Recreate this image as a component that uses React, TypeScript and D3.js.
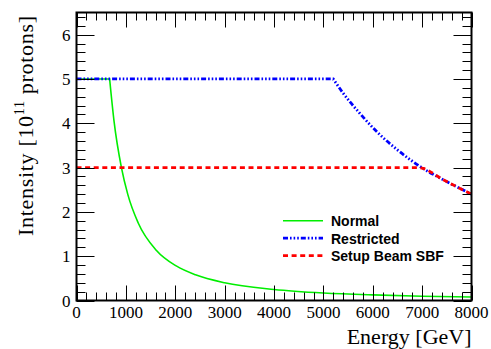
import * as d3 from "d3";
import React, { useRef, useEffect } from "react";

const W = 491;
const H = 349;
const margin = { top: 12.5, right: 19.5, bottom: 48.5, left: 76.5 };

const normalE = [0, 671, 760, 910, 1040, 1250, 1620, 2020, 2410, 3000, 4000, 5000, 6000, 7000, 8000];
const normalI = [5, 5, 4.05, 3.0, 2.39, 1.75, 1.13, 0.78, 0.58, 0.4, 0.25, 0.17, 0.126, 0.097, 0.078];
const restrictedE = [0, 5200, 5400, 5740, 6110, 6510, 7020, 7420, 8000];
const restrictedI = [5, 5, 4.68, 4.22, 3.78, 3.39, 2.98, 2.73, 2.4];
const setupE = [0, 6930, 7020, 7420, 8000];
const setupI = [3, 3, 2.98, 2.73, 2.4];

const xTicks = [0, 1000, 2000, 3000, 4000, 5000, 6000, 7000, 8000];
const yTicks = [0, 1, 2, 3, 4, 5, 6];

const series = [
  { name: "Normal", e: normalE, v: normalI, color: "#00ee00", width: 1.6, dash: null },
  { name: "Restricted", e: restrictedE, v: restrictedI, color: "#0000ff", width: 2.8, dash: "5,2,1.6,2,1.6,2,1.6,2" },
  { name: "Setup Beam SBF", e: setupE, v: setupI, color: "#ff0000", width: 2.8, dash: "5,3.6" },
];

export default function App() {
  const ref = useRef<SVGSVGElement>(null);

  useEffect(() => {
    const svg = d3.select(ref.current);
    svg.selectAll("*").remove();
    const x0 = margin.left;
    const x1 = W - margin.right;
    const y0 = H - margin.bottom;
    const y1 = margin.top;

    const x = d3.scaleLinear().domain([0, 8000]).range([x0, x1]);
    const y = d3.scaleLinear().domain([0, 6.5]).range([y0, y1]);

    const g = svg.append("g");

    // curves: flat part straight, then a smooth fall (sharp corner at the knee)
    series.forEach((s) => {
      const pts = s.e.map((e, i) => [e, s.v[i]] as [number, number]);
      const line = d3
        .line<[number, number]>()
        .x((d) => x(d[0]))
        .y((d) => y(d[1]))
        .curve(d3.curveMonotoneX);
      const tail = line(pts.slice(1)) || "";
      const d = `M${x(pts[0][0])},${y(pts[0][1])}L` + tail.slice(1);
      g.append("path")
        .attr("d", d)
        .attr("fill", "none")
        .attr("stroke", s.color)
        .attr("stroke-width", s.width)
        .attr("stroke-dasharray", s.dash);
    });

    // ticks on all four sides
    const ticks = svg.append("g").attr("stroke", "#000").attr("stroke-width", 1);
    d3.range(0, 8001, 200).forEach((v) => {
      const major = v % 1000 === 0;
      const len = major ? 15 : 8;
      const xx = Math.round(x(v)) + 0.5;
      ticks.append("line").attr("x1", xx).attr("x2", xx).attr("y1", y0).attr("y2", y0 - len);
      ticks.append("line").attr("x1", xx).attr("x2", xx).attr("y1", y1).attr("y2", y1 + len);
    });
    d3.range(0, 6.41, 0.2).forEach((v) => {
      const major = Math.abs(v - Math.round(v)) < 1e-6;
      const len = major ? 18 : 9;
      const yy = Math.round(y(v)) + 0.5;
      ticks.append("line").attr("x1", x0).attr("x2", x0 + len).attr("y1", yy).attr("y2", yy);
      ticks.append("line").attr("x1", x1).attr("x2", x1 - len).attr("y1", yy).attr("y2", yy);
    });

    // frame
    svg
      .append("rect")
      .attr("x", x0)
      .attr("y", y1)
      .attr("width", x1 - x0)
      .attr("height", y0 - y1)
      .attr("fill", "none")
      .attr("stroke", "#000")
      .attr("stroke-width", 2);

    const serif = "'Liberation Serif', 'Times New Roman', serif";

    svg
      .append("g")
      .selectAll("text")
      .data(xTicks)
      .join("text")
      .attr("x", (d) => x(d))
      .attr("y", y0 + 17)
      .attr("text-anchor", "middle")
      .attr("font-family", serif)
      .attr("font-size", 17)
      .text((d) => d);

    svg
      .append("g")
      .selectAll("text")
      .data(yTicks)
      .join("text")
      .attr("x", x0 - 6)
      .attr("y", (d) => y(d) + 6)
      .attr("text-anchor", "end")
      .attr("font-family", serif)
      .attr("font-size", 17)
      .text((d) => d);

    svg
      .append("text")
      .attr("x", x1)
      .attr("y", 344)
      .attr("text-anchor", "end")
      .attr("font-family", serif)
      .attr("font-size", 22)
      .text("Energy [GeV]");

    // y title, running from y=235 up to the top of the frame
    const yl = svg
      .append("text")
      .attr("transform", `translate(33,236) rotate(-90)`)
      .attr("font-family", serif)
      .attr("font-size", 22)
      .attr("textLength", 220)
      .attr("lengthAdjust", "spacing");
    yl.append("tspan").text("Intensity [10");
    yl.append("tspan").attr("font-size", 14).attr("dy", -9).text("11");
    yl.append("tspan").attr("dy", 9).text(" protons]");

    // legend
    const leg = svg.append("g");
    series.forEach((s, i) => {
      const base = 226 + i * 17.5;
      leg
        .append("line")
        .attr("x1", 283)
        .attr("x2", 323)
        .attr("y1", base - 5.3)
        .attr("y2", base - 5.3)
        .attr("stroke", s.color)
        .attr("stroke-width", s.width)
        .attr("stroke-dasharray", s.dash);
      leg
        .append("text")
        .attr("x", 331)
        .attr("y", base)
        .attr("font-family", "'Liberation Sans', Arial, sans-serif")
        .attr("font-weight", "bold")
        .attr("font-size", 14)
        .text(s.name);
    });
  }, []);

  return (
    <svg
      ref={ref}
      width={W}
      height={H}
      style={{ position: "absolute", left: 0, top: 0, background: "#fff" }}
    />
  );
}
